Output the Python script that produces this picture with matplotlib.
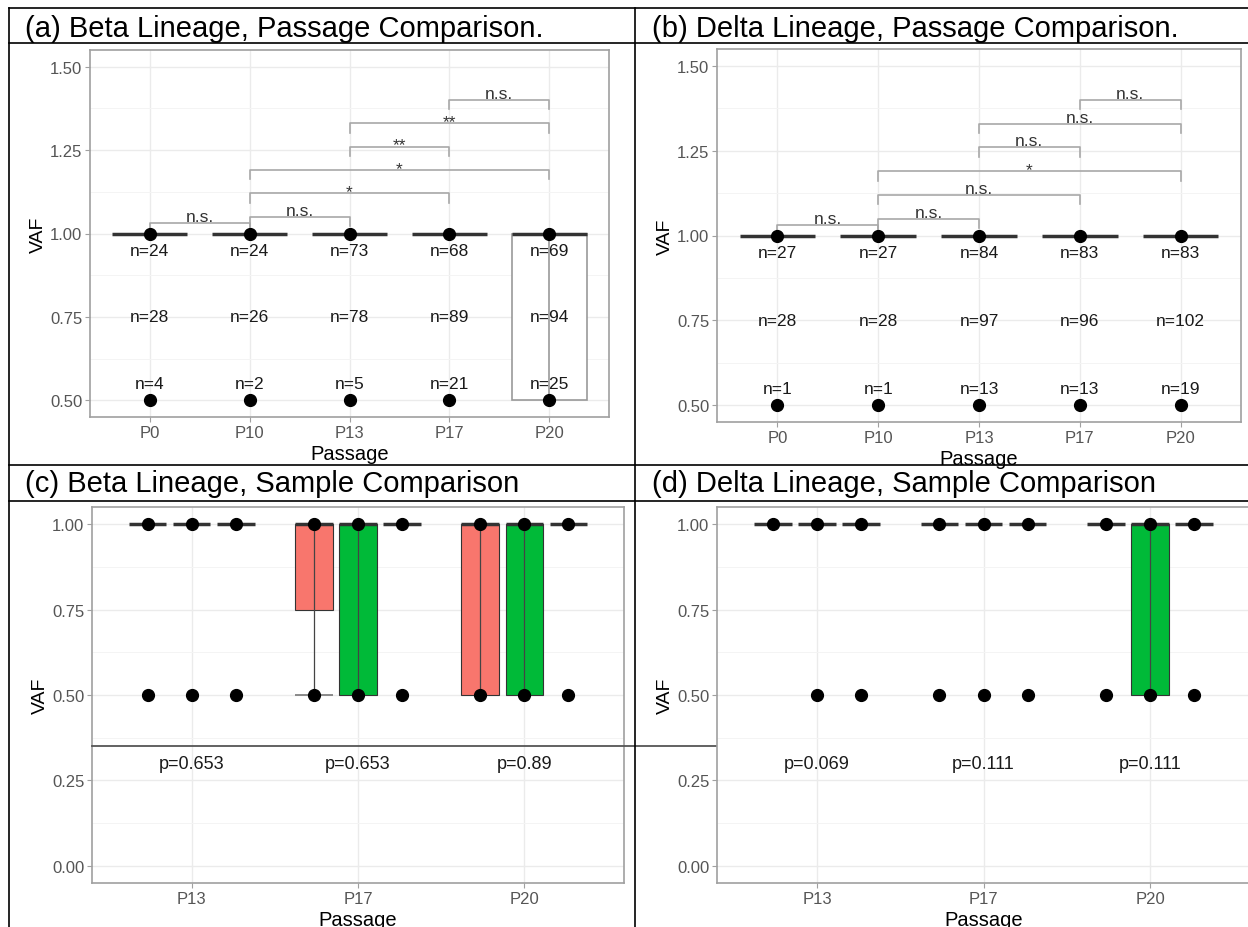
import numpy as np
import matplotlib
matplotlib.use('Agg')
import matplotlib.pyplot as plt
from matplotlib.lines import Line2D

plt.rcParams['font.family'] = ['Liberation Sans', 'DejaVu Sans']

W, H = 1248, 928

# ---- data: passage comparison (a, b)
passages_ab = ['P0', 'P10', 'P13', 'P17', 'P20']
beta_n_top = [24, 24, 73, 68, 69]
beta_n_mid = [28, 26, 78, 89, 94]
beta_n_low = [4, 2, 5, 21, 25]
delta_n_top = [27, 27, 84, 83, 83]
delta_n_mid = [28, 28, 97, 96, 102]
delta_n_low = [1, 1, 13, 13, 19]
beta_q1 = [1.0, 1.0, 1.0, 1.0, 0.5]
delta_q1 = [1.0, 1.0, 1.0, 1.0, 1.0]
vaf_points = [1.0, 0.5]

pairs = [(0, 1), (1, 2), (1, 3), (1, 4), (2, 3), (2, 4), (3, 4)]
pair_y = [1.03, 1.05, 1.12, 1.19, 1.26, 1.33, 1.40]
beta_sig = ['n.s.', 'n.s.', '*', '*', '**', '**', 'n.s.']
delta_sig = ['n.s.', 'n.s.', 'n.s.', '*', 'n.s.', 'n.s.', 'n.s.']

# ---- data: sample comparison (c, d)
passages_cd = ['P13', 'P17', 'P20']
sample_colors = ['#F8766D', '#00BA38', '#619CFF']
beta_s_q1 = [[1.0, 1.0, 1.0], [0.75, 0.5, 1.0], [0.5, 0.5, 1.0]]
beta_s_low = [[1.0, 1.0, 1.0], [0.5, 0.5, 1.0], [0.5, 0.5, 1.0]]
beta_s_pts = [[[1.0, 0.5], [1.0, 0.5], [1.0, 0.5]],
              [[1.0, 0.5], [1.0, 0.5], [1.0, 0.5]],
              [[1.0, 0.5], [1.0, 0.5], [1.0, 0.5]]]
delta_s_q1 = [[1.0, 1.0, 1.0], [1.0, 1.0, 1.0], [1.0, 0.5, 1.0]]
delta_s_low = [[1.0, 1.0, 1.0], [1.0, 1.0, 1.0], [1.0, 0.5, 1.0]]
delta_s_pts = [[[1.0], [1.0, 0.5], [1.0, 0.5]],
               [[1.0, 0.5], [1.0, 0.5], [1.0, 0.5]],
               [[1.0, 0.5], [1.0, 0.5], [1.0, 0.5]]]
beta_p = ['p=0.653', 'p=0.653', 'p=0.89']
delta_p = ['p=0.069', 'p=0.111', 'p=0.111']

fig = plt.figure(figsize=(W / 100, H / 100), dpi=100)


def px_axes(x0, y0, x1, y1):
    return fig.add_axes([x0 / W, 1 - y1 / H, (x1 - x0) / W, (y1 - y0) / H])


def fig_line(x0, y0, x1, y1):
    fig.add_artist(Line2D([x0 / W, x1 / W], [1 - y0 / H, 1 - y1 / H],
                          transform=fig.transFigure, color='black', lw=1.2))


def style(ax, labels, yticks, yminor):
    ax.set_xticks(np.arange(1, len(labels) + 1))
    ax.set_xticklabels(labels)
    ax.set_yticks(yticks)
    ax.set_yticklabels([f'{v:.2f}' for v in yticks])
    ax.set_yticks(yminor, minor=True)
    ax.grid(True, which='major', color='#ebebeb', lw=1.0)
    ax.grid(True, which='minor', axis='y', color='#f4f4f4', lw=0.7)
    ax.set_axisbelow(True)
    for s in ax.spines.values():
        s.set_color('#a0a0a0')
        s.set_linewidth(1.2)
    ax.tick_params(which='major', length=3.5, color='#a0a0a0', labelsize=12,
                   labelcolor='#555555', pad=2)
    ax.tick_params(which='minor', length=0)
    ax.set_ylabel('VAF', fontsize=14, labelpad=2)
    ax.set_xlabel('Passage', fontsize=14.5, labelpad=3)


def passage_panel(ax, q1s, n_top, n_mid, n_low, sig):
    x = np.arange(1, 6)
    for i in range(5):
        if q1s[i] < 1.0:
            ax.bar(x[i], 1.0 - q1s[i], bottom=q1s[i], width=0.75, facecolor='white',
                   edgecolor='#999999', lw=1.2, zorder=2)
            ax.vlines(x[i], q1s[i], 1.0, color='#999999', lw=1.2, zorder=2)
        ax.hlines(1.0, x[i] - 0.375, x[i] + 0.375, color='#333333', lw=2.5, zorder=3)
        ax.plot([x[i]] * len(vaf_points), vaf_points, 'o', color='black', ms=8.5, zorder=4)
        ax.text(x[i], 0.95, f'n={n_top[i]}', ha='center', va='center', fontsize=12.5, color='#1a1a1a', zorder=5)
        ax.text(x[i], 0.75, f'n={n_mid[i]}', ha='center', va='center', fontsize=12.5, color='#1a1a1a', zorder=5)
        ax.text(x[i], 0.55, f'n={n_low[i]}', ha='center', va='center', fontsize=12.5, color='#1a1a1a', zorder=5)
    tip = 0.028
    for (a, b), y, s in zip(pairs, pair_y, sig):
        ax.plot([x[a], x[a], x[b], x[b]], [y - tip, y, y, y - tip], color='#a8a8a8', lw=1.2, zorder=2)
        off = 0.006 if s == 'n.s.' else -0.008
        ax.text((x[a] + x[b]) / 2, y + off, s, ha='center', va='baseline', fontsize=12.5, color='#333333')
    ax.set_xlim(0.4, 5.6)
    ax.set_ylim(0.45, 1.55)
    style(ax, passages_ab, [0.5, 0.75, 1.0, 1.25, 1.5], [0.625, 0.875, 1.125, 1.375])


def sample_panel(ax, q1s, lows, pts, pvals):
    offs = [-0.265, 0.0, 0.265]
    bw = 0.225
    for j in range(3):
        for k in range(3):
            xc = j + 1 + offs[k]
            q1, lo = q1s[j][k], lows[j][k]
            if q1 < 1.0:
                ax.bar(xc, 1.0 - q1, bottom=q1, width=bw, facecolor=sample_colors[k],
                       edgecolor='#333333', lw=0.8, zorder=2)
            if lo < 1.0:
                ax.vlines(xc, lo, 1.0, color='#444444', lw=0.9, zorder=3)
            if lo < q1:
                ax.hlines(lo, xc - bw / 2, xc + bw / 2, color='#777777', lw=1.2, zorder=3)
            ax.hlines(1.0, xc - bw / 2, xc + bw / 2, color='#333333', lw=2.5, zorder=3)
            ax.plot([xc] * len(pts[j][k]), pts[j][k], 'o', color='black', ms=8.5, zorder=4)
        ax.text(j + 1, 0.30, pvals[j], ha='center', va='center', fontsize=13, color='#1a1a1a')
    ax.set_xlim(0.4, 3.6)
    ax.set_ylim(-0.05, 1.05)
    style(ax, passages_cd, [0.0, 0.25, 0.5, 0.75, 1.0], [0.125, 0.375, 0.625, 0.875])


ax_a = px_axes(90, 51, 609, 418)
ax_b = px_axes(717, 50, 1241, 423)
ax_c = px_axes(92, 508, 624, 884)
ax_d = px_axes(717, 508, 1250, 884)

passage_panel(ax_a, beta_q1, beta_n_top, beta_n_mid, beta_n_low, beta_sig)
passage_panel(ax_b, delta_q1, delta_n_top, delta_n_mid, delta_n_low, delta_sig)
sample_panel(ax_c, beta_s_q1, beta_s_low, beta_s_pts, beta_p)
sample_panel(ax_d, delta_s_q1, delta_s_low, delta_s_pts, delta_p)

# separator line running under the sample panels
ax_c.plot([0.4, 7.5], [0.35, 0.35], color='#555555', lw=1.3, clip_on=False, zorder=5)

# table frame
fig_line(9, 9, 1248, 9)
fig_line(9, 9, 9, 928)
fig_line(635, 9, 635, 928)
fig_line(9, 44, 1248, 44)
fig_line(9, 466, 1248, 466)
fig_line(9, 502, 1248, 502)

fig.text(25 / W, 1 - 37 / H, '(a) Beta Lineage, Passage Comparison.', fontsize=21, va='baseline')
fig.text(652 / W, 1 - 37 / H, '(b) Delta Lineage, Passage Comparison.', fontsize=21, va='baseline')
fig.text(25 / W, 1 - 492 / H, '(c) Beta Lineage, Sample Comparison', fontsize=21, va='baseline')
fig.text(652 / W, 1 - 492 / H, '(d) Delta Lineage, Sample Comparison', fontsize=21, va='baseline')

fig.savefig('out.png', dpi=100)
